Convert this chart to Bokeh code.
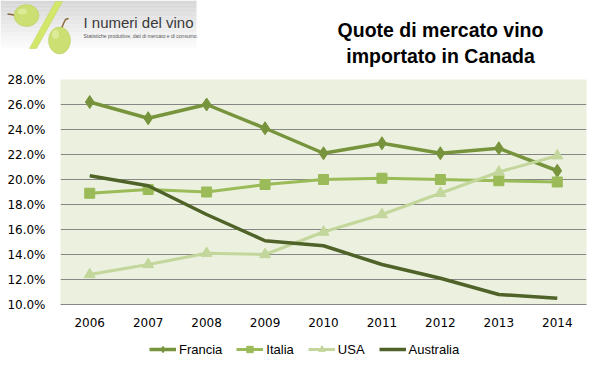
from bokeh.plotting import figure
from bokeh.layouts import column, row
from bokeh.models import (FixedTicker, PrintfTickFormatter, Legend, LegendItem)
from bokeh.core.properties import value
from bokeh.embed import file_html
from bokeh.resources import INLINE

# ---------------- data ----------------
years = [2006, 2007, 2008, 2009, 2010, 2011, 2012, 2013, 2014]
francia = [26.2, 24.9, 26.0, 24.1, 22.1, 22.9, 22.1, 22.5, 20.7]
italia = [18.9, 19.2, 19.0, 19.6, 20.0, 20.1, 20.0, 19.9, 19.8]
usa = [12.4, 13.2, 14.1, 14.0, 15.8, 17.2, 18.9, 20.6, 21.9]
australia = [20.3, 19.5, 17.2, 15.1, 14.7, 13.2, 12.1, 10.8, 10.5]
series_names = ["Francia", "Italia", "USA", "Australia"]
y_ticks = [10, 12, 14, 16, 18, 20, 22, 24, 26, 28]
title_lines = ["Quote di mercato vino", "importato in Canada"]
logo_title = "I numeri del vino"
logo_sub = "Statistiche produttive, dati di mercato e di consumo."

c_fr, c_it, c_us, c_au = "#77933c", "#9bbb59", "#c3d69b", "#4f6228"


def bare_figure(w, hgt, xr, yr):
    f = figure(width=w, height=hgt, x_range=xr, y_range=yr,
               toolbar_location=None, output_backend="svg", title=None,
               x_axis_location=None, y_axis_location=None,
               min_border=0, min_border_left=0, min_border_right=0,
               min_border_top=0, min_border_bottom=0)
    f.grid.visible = False
    f.outline_line_color = None
    f.background_fill_color = "white"
    f.border_fill_color = "white"
    return f


# ---------------- header (logo + title) ----------------
HH = 70
h = bare_figure(600, HH, (0, 600), (HH, 0))

# logo gradient background
n = 13
for i in range(n):
    t = i / (n - 1)
    c = int(0xd8 + (0xff - 0xd8) * t)
    col = "#%02x%02x%02x" % (c, c, c)
    h.quad(left=0, right=196, top=i * 4, bottom=i * 4 + 4.2, fill_color=col, line_color=None)

h.line(x=[7, 11, 15], y=[13.5, 14, 15], line_color="#8a6a3a", line_width=1.5)
h.line(x=[61, 63, 65, 68], y=[28, 23, 19, 18], line_color="#8a6a3a", line_width=1.5)
h.patch(x=[55, 62, 36, 29], y=[1, 1, 48, 48], fill_color="#d3e76a", line_color="#bcd45a", line_width=0.5)
h.ellipse(x=[26, 59], y=[15, 40], width=[25, 22], height=[22, 27],
          fill_color="#cbdf72", line_color="#b5cc5c", line_width=0.5)
h.ellipse(x=[22, 55], y=[11, 34], width=[9, 7], height=[6, 9],
          fill_color="#e4efa8", line_color=None, fill_alpha=0.7)

h.text(x=[83], y=[22], text=[logo_title], text_font=value("Liberation Sans"),
       text_font_size="15px", text_color="#3a3a3a", text_baseline="middle")
h.text(x=[83], y=[35], text=[logo_sub], text_font=value("Liberation Sans"),
       text_font_size="5px", text_color="#555555", text_baseline="middle")

h.text(x=[440, 440], y=[29, 55], text=title_lines, text_font=value("Liberation Sans"),
       text_font_size="19.5px", text_font_style="bold", text_color="#000000",
       text_align="center", text_baseline="middle")

# ---------------- main chart ----------------
MH = 264
p = figure(width=600, height=MH, x_range=(2005.5, 2014.5), y_range=(10, 28),
           toolbar_location=None, output_backend="svg",
           min_border_left=60, min_border_right=14,
           min_border_top=79 - HH, min_border_bottom=MH - 225 - (79 - HH))
p.title.visible = False
p.background_fill_color = "#ebf1de"
p.border_fill_color = "white"
p.outline_line_color = None

p.xgrid.grid_line_color = None
p.ygrid.grid_line_color = "#868686"
p.ygrid.grid_line_width = 1
p.ygrid.ticker = FixedTicker(ticks=y_ticks)

p.xaxis.ticker = FixedTicker(ticks=years)
p.yaxis.ticker = FixedTicker(ticks=y_ticks)
p.yaxis.formatter = PrintfTickFormatter(format="%.1f%%")
for ax in (p.xaxis, p.yaxis):
    ax.major_tick_line_color = None
    ax.minor_tick_line_color = None
    ax.major_label_text_font = "DejaVu Sans"
    ax.major_label_text_font_size = "12px"
    ax.major_label_text_color = "#000000"
p.yaxis.major_label_standoff = 9
p.yaxis.axis_line_color = None
p.xaxis.axis_line_color = "#868686"
p.xaxis.axis_line_width = 1
p.xaxis.major_label_standoff = 7

p.line(years, francia, line_color=c_fr, line_width=3.5)
p.scatter(years, francia, marker="diamond", size=13, fill_color=c_fr, line_color=c_fr)
p.line(years, italia, line_color=c_it, line_width=3)
p.scatter(years, italia, marker="square", size=10, fill_color=c_it, line_color=c_it)
p.line(years, usa, line_color=c_us, line_width=3)
p.scatter(years, usa, marker="triangle", size=11, fill_color=c_us, line_color=c_us)
p.line(years, australia, line_color=c_au, line_width=3.5)

# ---------------- legend strip ----------------
LH = 370 - HH - MH
lf = bare_figure(600, LH, (0, 1), (0, 1))
styles = [(c_fr, 3.5, "diamond", 9), (c_it, 3, "square", 7), (c_us, 3, "triangle", 8), (c_au, 3.5, None, 0)]
items = []
for name, (c, lw, mk, ms) in zip(series_names, styles):
    # one point placed outside the visible range: only the legend swatch shows
    rs = [lf.line(x=[-5, -4], y=[-5, -4], line_color=c, line_width=lw)]
    if mk:
        rs.append(lf.scatter(x=[-5], y=[-5], marker=mk, size=ms, fill_color=c, line_color=c))
    items.append(LegendItem(label=name, renderers=rs))

legend = Legend(items=items, orientation="horizontal", location=(149, LH - 7 - 16),
                glyph_width=27, glyph_height=16, label_height=16, label_standoff=3,
                spacing=14, padding=0, margin=0, border_line_color=None,
                background_fill_alpha=0, label_text_font="Liberation Sans",
                label_text_font_size="13px", label_text_color="#000000")
lf.add_layout(legend)

layout = column(row(h), p, row(lf), spacing=0)
open("out.html", "w").write(file_html(layout, INLINE))
